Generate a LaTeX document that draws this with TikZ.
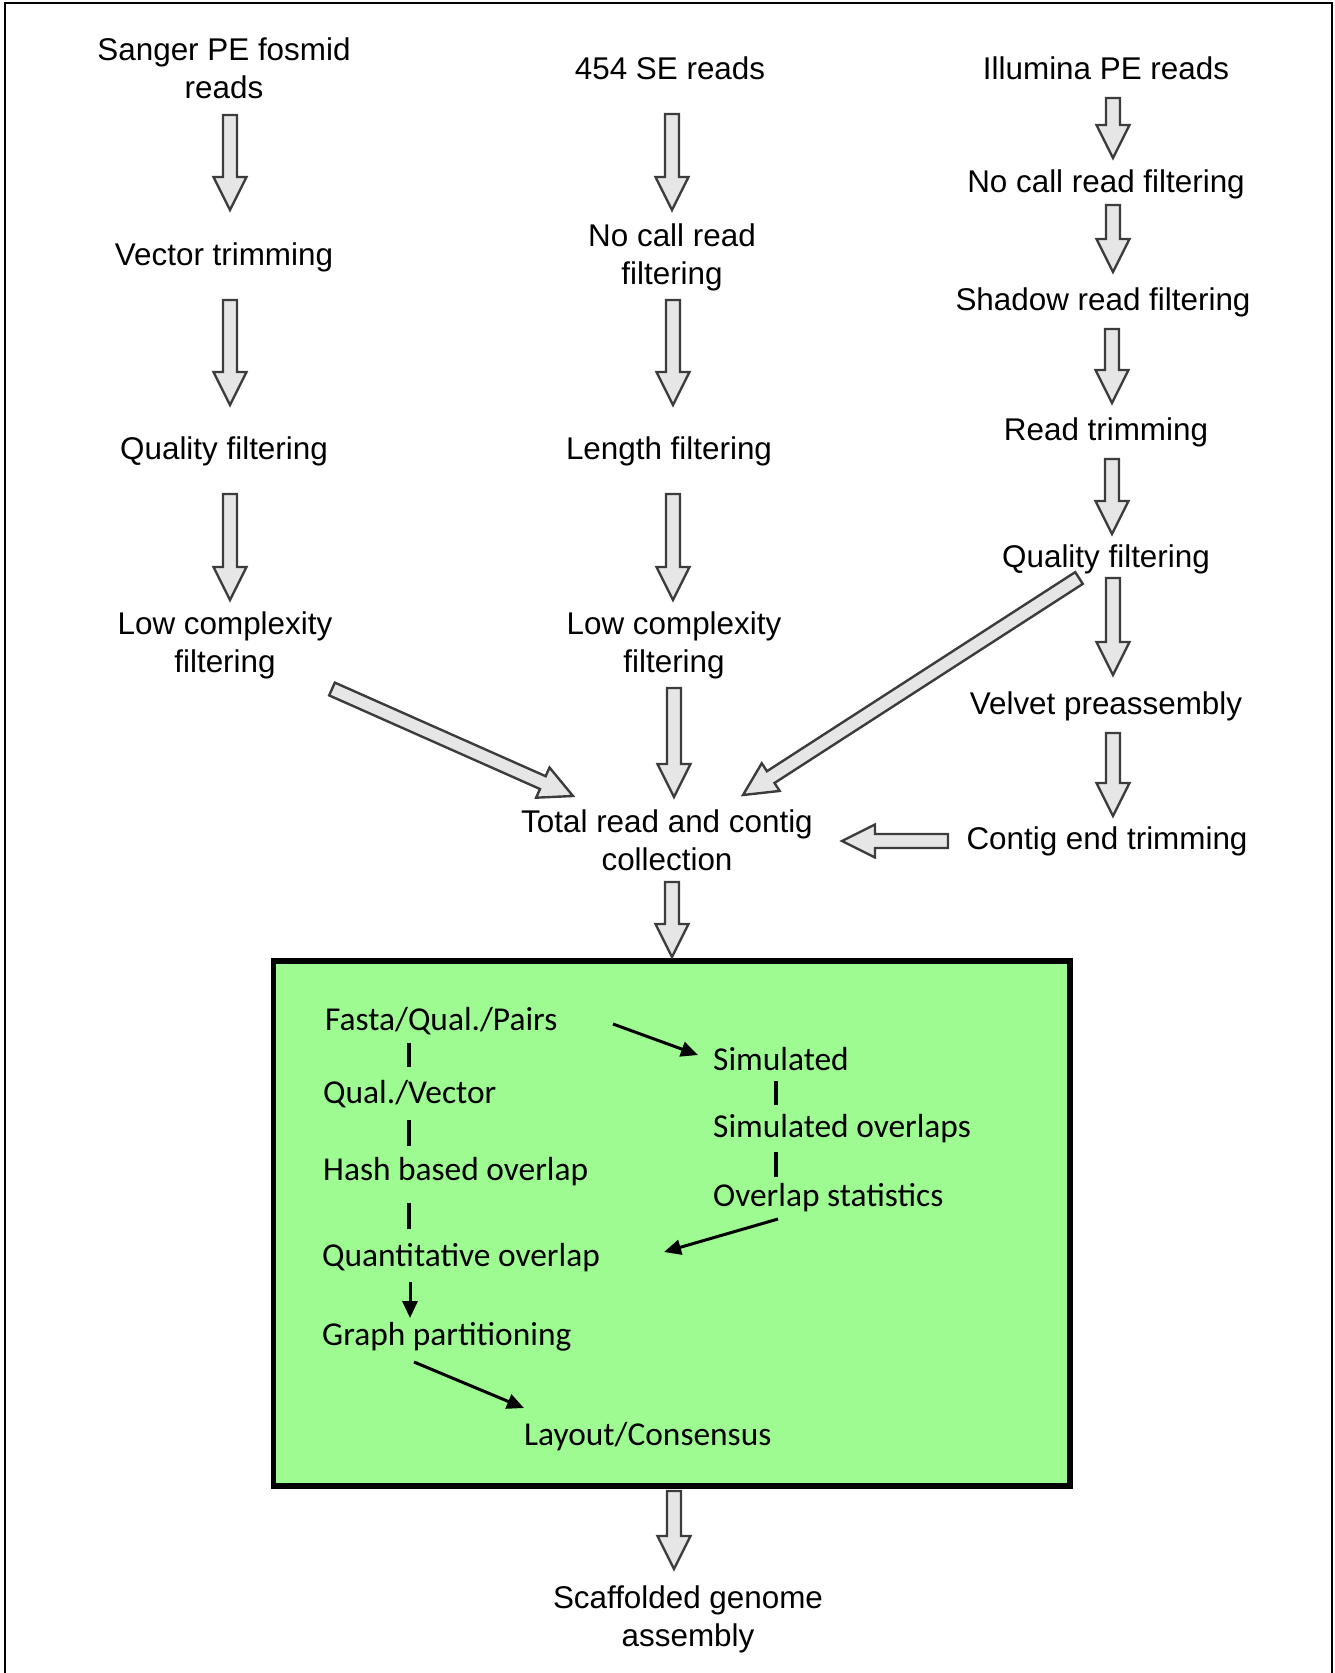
\documentclass[tikz,border=0pt]{standalone}
\usepackage{fontspec}
\setmainfont{Liberation Sans}
\newfontfamily\innerfont{Carlito}
\usetikzlibrary{arrows.meta,calc}
\definecolor{boxgreen}{RGB}{157,251,145}
\definecolor{arrfill}{RGB}{230,230,230}
\definecolor{arrline}{RGB}{60,60,60}
\tikzset{
  outer/.style={font=\fontsize{31.4}{38}\selectfont, align=center, inner sep=0pt, anchor=base},
  innertext/.style={font=\innerfont\fontsize{33.4}{40}\selectfont, inner sep=0pt, anchor=base west},
  blockarrow/.style={draw=arrline, fill=arrfill, line width=2.4pt, line join=miter},
  bar/.style={draw=black, line width=3.5pt},
  inarrow/.style={draw=black, line width=3pt, -{Triangle[length=17pt,width=15pt]}},
  frame/.style={draw=black, line width=2pt},
  greenbox/.style={draw=black, fill=boxgreen, line width=5.5pt}
}
\newcommand\barrow[2]{%
  \path let \p1=(#1), \p2=(#2), \n1={atan2(\y2-\y1,\x2-\x1)}, \n2={veclen(\x2-\x1,\y2-\y1)} in
    \pgfextra{\xdef\bA{\n1}\xdef\bL{\n2}};
  \draw[blockarrow, shift={(#1)}, rotate=\bA]
    (0pt,-7pt) -- ({(\bL-33)*1pt},-7pt) -- ({(\bL-33)*1pt},-16.5pt) -- ({\bL*1pt},0pt)
    -- ({(\bL-33)*1pt},16.5pt) -- ({(\bL-33)*1pt},7pt) -- (0pt,7pt) -- cycle;
}
\begin{document}
\begin{tikzpicture}[x=1pt,y=-1pt]
\useasboundingbox (0,0) rectangle (1335,1673);
\draw[frame] (5,1673) -- (5,3) -- (1332,3) -- (1332,1673);

% column 1 (two-line nodes are placed by the baseline of their last line)
\node[outer] (sanger) at (224,98) {Sanger PE fosmid\\reads};
\node[outer] (vec) at (224,265) {Vector trimming};
\node[outer] (qual1) at (224,459) {Quality filtering};
\node[outer] (low1) at (225,672) {Low complexity\\filtering};
% column 2
\node[outer] (r454) at (670,79) {454 SE reads};
\node[outer] (nocall2) at (672,284) {No call read\\filtering};
\node[outer] (length) at (669,459) {Length filtering};
\node[outer] (low2) at (674,672) {Low complexity\\filtering};
\node[outer] (total) at (667,870) {Total read and contig\\collection};
% column 3
\node[outer] (illum) at (1106,79) {Illumina PE reads};
\node[outer] (nocall3) at (1106,192) {No call read filtering};
\node[outer] (shadow) at (1103,310) {Shadow read filtering};
\node[outer] (readtrim) at (1106,440) {Read trimming};
\node[outer] (qual3) at (1106,567) {Quality filtering};
\node[outer] (velvet) at (1106,714) {Velvet preassembly};
\node[outer] (contig) at (1107,849) {Contig end trimming};
% bottom
\node[outer] (scaff) at (688,1646) {Scaffolded genome\\assembly};

% block arrow end points
\coordinate (a1s) at (230,115);  \coordinate (a1e) at (230,210);
\coordinate (a2s) at (230,300);  \coordinate (a2e) at (230,405);
\coordinate (a3s) at (230,494);  \coordinate (a3e) at (230,600);
\coordinate (d1s) at (332,689);  \coordinate (d1e) at (573,796);
\coordinate (b1s) at (672,114);  \coordinate (b1e) at (672,210);
\coordinate (b2s) at (673,300);  \coordinate (b2e) at (673,405);
\coordinate (b3s) at (673,494);  \coordinate (b3e) at (673,600);
\coordinate (b4s) at (674,688);  \coordinate (b4e) at (674,797);
\coordinate (b5s) at (672,882);  \coordinate (b5e) at (672,957);
\coordinate (c1s) at (1113,98);  \coordinate (c1e) at (1113,158);
\coordinate (c2s) at (1113,205); \coordinate (c2e) at (1113,272);
\coordinate (c3s) at (1112,329); \coordinate (c3e) at (1112,403);
\coordinate (c4s) at (1112,459); \coordinate (c4e) at (1112,534);
\coordinate (c5s) at (1113,578); \coordinate (c5e) at (1113,675);
\coordinate (c6s) at (1113,733); \coordinate (c6e) at (1113,816);
\coordinate (c7s) at (948,841);  \coordinate (c7e) at (842,841);
\coordinate (d2s) at (1079,578); \coordinate (d2e) at (743,795);
\coordinate (e1s) at (674,1491); \coordinate (e1e) at (674,1569);

% green box
\draw[greenbox] (273.5,961) rectangle (1070,1486);
\node[innertext] (fasta) at (325,1030) {Fasta/Qual./Pairs};
\node[innertext] (qualvec) at (323,1103) {Qual./Vector};
\node[innertext] (hash) at (323,1180) {Hash based overlap};
\node[innertext] (quant) at (322,1266) {Quantitative overlap};
\node[innertext] (graph) at (322,1345) {Graph partitioning};
\node[innertext] (layout) at (524,1445) {Layout/Consensus};
\node[innertext] (sim) at (713,1070) {Simulated};
\node[innertext] (simov) at (713,1137) {Simulated overlaps};
\node[innertext] (ovstat) at (713,1206) {Overlap statistics};

\coordinate (q1a) at (409,1043); \coordinate (q1b) at (409,1067);
\coordinate (q2a) at (409,1120); \coordinate (q2b) at (409,1146);
\coordinate (q3a) at (409,1203); \coordinate (q3b) at (409,1229);
\coordinate (q4a) at (410,1282); \coordinate (q4b) at (410,1318);
\coordinate (s1a) at (776,1081); \coordinate (s1b) at (776,1105);
\coordinate (s2a) at (776,1152); \coordinate (s2b) at (776,1177);
\coordinate (f1a) at (613,1024); \coordinate (f1b) at (698,1055);
\coordinate (o1a) at (778,1219); \coordinate (o1b) at (664,1252);
\coordinate (g1a) at (414,1362); \coordinate (g1b) at (524,1408);

\draw[bar] (q1a) -- (q1b);
\draw[bar] (q2a) -- (q2b);
\draw[bar] (q3a) -- (q3b);
\draw[inarrow] (q4a) -- (q4b);
\draw[bar] (s1a) -- (s1b);
\draw[bar] (s2a) -- (s2b);
\draw[inarrow] (f1a) -- (f1b);
\draw[inarrow] (o1a) -- (o1b);
\draw[inarrow] (g1a) -- (g1b);

% block arrows
\barrow{a1s}{a1e}
\barrow{a2s}{a2e}
\barrow{a3s}{a3e}
\barrow{d1s}{d1e}
\barrow{b1s}{b1e}
\barrow{b2s}{b2e}
\barrow{b3s}{b3e}
\barrow{b4s}{b4e}
\barrow{b5s}{b5e}
\barrow{c1s}{c1e}
\barrow{c2s}{c2e}
\barrow{c3s}{c3e}
\barrow{c4s}{c4e}
\barrow{c5s}{c5e}
\barrow{c6s}{c6e}
\barrow{c7s}{c7e}
\barrow{d2s}{d2e}
\barrow{e1s}{e1e}
\end{tikzpicture}
\end{document}
